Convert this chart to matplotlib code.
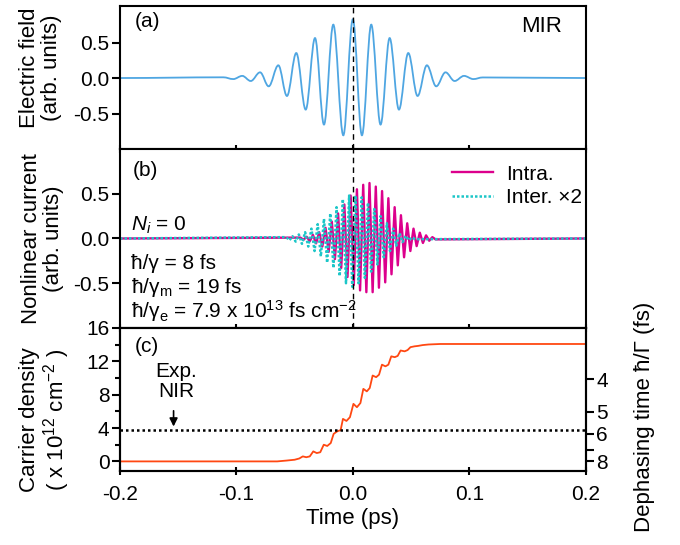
import numpy as np
import matplotlib
matplotlib.use('Agg')
import matplotlib.pyplot as plt
from matplotlib.path import Path
from matplotlib.patches import PathPatch
from matplotlib.ticker import MultipleLocator, FixedLocator

plt.rcParams['font.family'] = ['Liberation Sans', 'DejaVu Sans']
plt.rcParams['mathtext.fontset'] = 'custom'
plt.rcParams['mathtext.rm'] = 'Liberation Sans'
plt.rcParams['mathtext.it'] = 'Liberation Sans:italic'
plt.rcParams['mathtext.bf'] = 'Liberation Sans:bold'

# (a) MIR electric field: extrema (time in ps, field in arb. units)
field_t = [-0.2, -0.1113, -0.1027, -0.0950, -0.0877, -0.0797, -0.0723, -0.0640, -0.0566,
           -0.0486, -0.0405, -0.0325, -0.0248, -0.0168, -0.0082, 0.0, 0.0078, 0.0158,
           0.0238, 0.0316, 0.0396, 0.0476, 0.0556, 0.0636, 0.0716, 0.0796, 0.0874,
           0.0955, 0.1035, 0.1115, 0.2]
field_v = [0.0, 0.01, -0.015, 0.03, -0.042, 0.08, -0.117, 0.179, -0.253,
           0.352, -0.445, 0.563, -0.656, 0.752, -0.807, 0.827, -0.807, 0.752,
           -0.656, 0.563, -0.445, 0.352, -0.253, 0.179, -0.117, 0.08, -0.042,
           0.03, -0.015, 0.008, 0.0]

# (b) nonlinear current, extrema of the intraband part
intra_t = [-0.2, -0.0451, -0.0424, -0.0397, -0.0370, -0.0343, -0.0316, -0.0289, -0.0262,
           -0.0235, -0.0208, -0.0181, -0.0154, -0.0127, -0.0100, -0.0073, -0.0046,
           -0.0019, 0.0008, 0.0035, 0.0062, 0.0089, 0.0116, 0.0143, 0.0170, 0.0197,
           0.0224, 0.0251, 0.0278, 0.0305, 0.0332, 0.0359, 0.0386, 0.0413, 0.0440,
           0.0467, 0.0494, 0.0521, 0.0548, 0.0575, 0.0602, 0.0629, 0.0656, 0.0683,
           0.0710, 0.2]
intra_v = [0.0, 0.01, -0.015, 0.02, -0.03, 0.04, -0.055, 0.07, -0.09,
           0.12, -0.15, 0.19, -0.23, 0.28, -0.33, 0.38, -0.43,
           0.48, -0.52, 0.55, -0.58, 0.60, -0.60, 0.62, -0.60, 0.58,
           -0.55, 0.53, -0.49, 0.45, -0.40, 0.35, -0.30, 0.26, -0.21,
           0.17, -0.14, 0.11, -0.085, 0.065, -0.05, 0.035, -0.025, 0.015,
           -0.01, 0.0]

# interband part (already multiplied by 2)
inter_t = [-0.2, -0.0572, -0.0545, -0.0518, -0.0491, -0.0464, -0.0437, -0.0410, -0.0383,
           -0.0356, -0.0329, -0.0302, -0.0275, -0.0248, -0.0221, -0.0194, -0.0167,
           -0.0140, -0.0113, -0.0086, -0.0059, -0.0032, -0.0005, 0.0022, 0.0049,
           0.0076, 0.0103, 0.0130, 0.0157, 0.0184, 0.0211, 0.0238, 0.0265, 0.0292,
           0.0319, 0.0346, 0.0373, 0.0400, 0.0427, 0.0454, 0.0481, 0.0508, 0.0535, 0.2]
inter_v = [0.0, 0.015, -0.02, 0.025, -0.035, 0.045, -0.06, 0.07, -0.09,
           0.11, -0.14, 0.16, -0.20, 0.22, -0.27, 0.28, -0.33,
           0.35, -0.42, 0.44, -0.50, 0.48, -0.54, 0.48, -0.50,
           0.46, -0.44, 0.40, -0.37, 0.33, -0.29, 0.25, -0.21, 0.17,
           -0.14, 0.11, -0.08, 0.06, -0.04, 0.03, -0.02, 0.012, -0.008, 0.0]

# (c) carrier density (x 1e12 cm^-2)
dens_t = [-0.2, -0.065, -0.057, -0.050, -0.046, -0.043, -0.040, -0.037, -0.034, -0.031,
          -0.028, -0.025, -0.022, -0.019, -0.0165, -0.0135, -0.0105, -0.0085, -0.0055,
          -0.0025, 0.0005, 0.0035, 0.0065, 0.0090, 0.0120, 0.0145, 0.0170, 0.0200,
          0.0225, 0.0250, 0.0280, 0.0305, 0.0330, 0.0360, 0.0385, 0.0410, 0.0445,
          0.0470, 0.0495, 0.0530, 0.0560, 0.0600, 0.0650, 0.0750, 0.2]
dens_v = [0.0, 0.0, 0.1, 0.2, 0.35, 0.6, 0.5, 0.6, 1.2, 1.0,
          1.1, 2.0, 1.85, 2.2, 3.3, 3.6, 3.75, 5.1, 4.85,
          5.3, 6.9, 6.5, 7.0, 8.7, 8.4, 8.8, 10.3, 10.1,
          10.4, 11.6, 11.4, 11.6, 12.6, 12.5, 12.65, 13.3, 13.2,
          13.35, 13.7, 13.8, 13.85, 13.95, 14.02, 14.08, 14.08]
nir_density = 3.75

# dephasing time axis: hbar/Gamma = 1/(1/8 + N/79) fs, N in 1e12 cm^-2
hbar_gamma = 8.0
hbar_gamma_e = 79.0  # 7.9e13 fs cm^-2 in units of 1e12 cm^-2
deph_major = [4, 5, 6, 8]
deph_minor = [7]

def dens_for_tau(tau):
    return hbar_gamma_e * (1.0 / tau - 1.0 / hbar_gamma)

def smooth_path(t, v, k=0.36):
    verts = [(t[0], v[0])]
    codes = [Path.MOVETO]
    for i in range(len(t) - 1):
        dt = t[i + 1] - t[i]
        verts += [(t[i] + k * dt, v[i]), (t[i + 1] - k * dt, v[i + 1]), (t[i + 1], v[i + 1])]
        codes += [Path.CURVE4] * 3
    return Path(verts, codes)

fs_tick = 15
fs_lab = 16
fs_txt = 15

fig = plt.figure(figsize=(6.8, 5.45), dpi=100)
L, W = 0.1765, 0.6848
ax_a = fig.add_axes([L, 0.7266, W, 0.2631])
ax_b = fig.add_axes([L, 0.3982, W, 0.3284])
ax_c = fig.add_axes([L, 0.1358, W, 0.2624])

lw_axis = 1.5
for ax in (ax_a, ax_b, ax_c):
    ax.set_xlim(-0.2, 0.2)
    for s in ax.spines.values():
        s.set_linewidth(lw_axis)
    ax.xaxis.set_major_locator(MultipleLocator(0.1))
    ax.tick_params(axis='x', direction='inout', length=6, width=lw_axis, labelsize=fs_tick, pad=7)
    ax.tick_params(axis='y', direction='out', length=5.5, width=lw_axis, labelsize=fs_tick, pad=2)
    ax.tick_params(axis='y', which='minor', direction='out', length=3.5, width=lw_axis)

# (a)
ax_a.add_patch(PathPatch(smooth_path(field_t, field_v), fill=False, edgecolor='#4fa6e2', lw=1.3))
ax_a.axvline(0, color='black', ls=(0, (4, 3)), lw=1.0)
ax_a.set_ylim(-1.0, 1.02)
ax_a.set_yticks([-0.5, 0.0, 0.5])
ax_a.set_yticklabels(['-0.5', '0.0', '0.5'])
ax_a.tick_params(axis='x', labelbottom=False)
ax_a.set_ylabel('Electric field\n(arb. units)', fontsize=fs_lab, linespacing=1.05)
ax_a.yaxis.set_label_coords(-0.17, 0.57)
ax_a.yaxis.label.set_verticalalignment('center')
ax_a.text(0.032, 0.89, '(a)', transform=ax_a.transAxes, fontsize=fs_txt, va='center')
ax_a.text(0.905, 0.853, 'MIR', transform=ax_a.transAxes, fontsize=16, va='center', ha='center')

# (b)
ax_b.plot(intra_t, intra_v, color='#dc008c', lw=1.7, label='Intra.')
ax_b.plot(inter_t, inter_v, color='#1cc6c8', lw=1.8, ls=(0, (1, 0.8)), label='Inter. ×2')
ax_b.axvline(0, color='black', ls=(0, (4, 3)), lw=1.0)
ax_b.set_ylim(-1.0, 1.0)
ax_b.set_yticks([-0.5, 0.0, 0.5])
ax_b.set_yticklabels(['-0.5', '0.0', '0.5'])
ax_b.tick_params(axis='x', labelbottom=False)
ax_b.set_ylabel('Nonlinear current\n(arb. units)', fontsize=fs_lab, linespacing=1.05)
ax_b.yaxis.set_label_coords(-0.166, 0.5)
ax_b.yaxis.label.set_verticalalignment('center')
ax_b.legend(loc='upper left', bbox_to_anchor=(0.69, 0.97), frameon=False, fontsize=fs_txt,
            handlelength=2.0, handletextpad=0.6, borderpad=0, labelspacing=0.2)
ax_b.text(0.028, 0.88, '(b)', transform=ax_b.transAxes, fontsize=fs_txt, va='center')
ax_b.text(0.023, 0.575, '$N_i$ = 0', transform=ax_b.transAxes, fontsize=fs_txt, va='center')
ax_b.text(0.023, 0.36, 'ħ/γ = 8 fs', transform=ax_b.transAxes, fontsize=fs_txt, va='center')
ax_b.text(0.023, 0.225, 'ħ/γ$_\\mathrm{m}$ = 19 fs', transform=ax_b.transAxes, fontsize=fs_txt,
          va='center')
ax_b.text(0.023, 0.095, 'ħ/γ$_\\mathrm{e}$ = 7.9 x 10$^{13}$ fs cm$^{-2}$', transform=ax_b.transAxes,
          fontsize=fs_txt, va='center')

# (c)
ax_c.plot(dens_t, dens_v, color='#ff4812', lw=1.3)
ax_c.axhline(nir_density, color='black', ls=(0, (1, 1.2)), lw=1.8)
ax_c.set_ylim(-1.15, 16)
ax_c.yaxis.set_major_locator(MultipleLocator(4))
ax_c.yaxis.set_minor_locator(MultipleLocator(2))
ax_c.set_xticks([-0.2, -0.1, 0.0, 0.1, 0.2])
ax_c.set_xticklabels(['-0.2', '-0.1', '0.0', '0.1', '0.2'])
ax_c.set_xlabel('Time (ps)', fontsize=fs_lab, labelpad=3)
ax_c.set_ylabel('Carrier density\n( x 10$^{12}$ cm$^{-2}$ )', fontsize=fs_lab, linespacing=1.05)
ax_c.yaxis.set_label_coords(-0.161, 0.36)
ax_c.yaxis.label.set_verticalalignment('center')
ax_c.text(0.032, 0.87, '(c)', transform=ax_c.transAxes, fontsize=fs_txt, va='center')
ax_c.text(-0.152, 9.6, 'Exp.\nNIR', fontsize=fs_txt, ha='center', va='center', linespacing=1.1)
ax_c.annotate('', xy=(-0.154, 3.85), xytext=(-0.154, 6.4),
              arrowprops=dict(arrowstyle='-|>', color='black', lw=1.2, mutation_scale=12))

ax_r = ax_c.twinx()
ax_r.set_ylim(ax_c.get_ylim())
ax_r.yaxis.set_major_locator(FixedLocator([dens_for_tau(x) for x in deph_major]))
ax_r.yaxis.set_minor_locator(FixedLocator([dens_for_tau(x) for x in deph_minor]))
ax_r.set_yticklabels([str(x) for x in deph_major])
ax_r.tick_params(axis='y', direction='out', length=5.5, width=lw_axis, labelsize=fs_tick, pad=2)
ax_r.tick_params(axis='y', which='minor', direction='out', length=5.5, width=lw_axis)
for s in ax_r.spines.values():
    s.set_linewidth(lw_axis)
ax_r.set_ylabel('Dephasing time ħ/Γ (fs)', fontsize=fs_lab)
ax_r.yaxis.set_label_coords(1.127, 0.38)
ax_r.yaxis.label.set_verticalalignment('center')

plt.savefig('out.png', dpi=100)
